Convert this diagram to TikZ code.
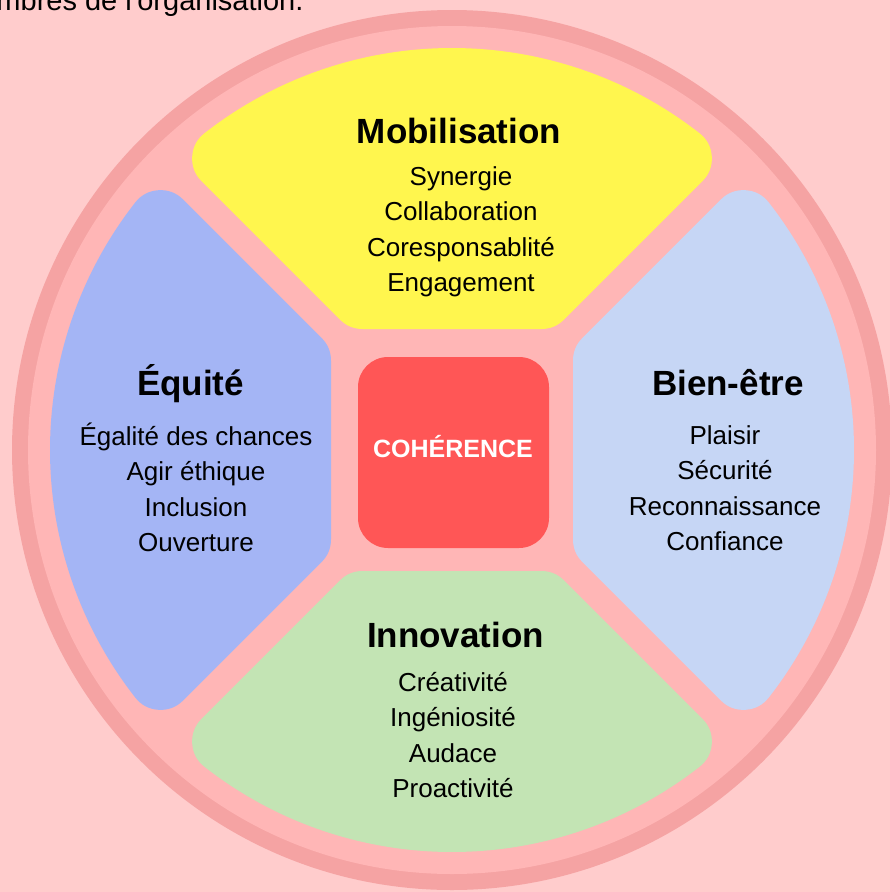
\documentclass[tikz,border=0pt]{standalone}
\usepackage{fontspec}
\setmainfont{Liberation Sans}
\usepackage{tikz}
\usetikzlibrary{calc}

\definecolor{bgpink}{RGB}{255,204,204}
\definecolor{ringpink}{RGB}{245,163,163}
\definecolor{innerpink}{RGB}{255,182,182}
\definecolor{mobilyellow}{RGB}{255,246,78}
\definecolor{equiteblue}{RGB}{164,181,245}
\definecolor{bienblue}{RGB}{198,214,245}
\definecolor{innovgreen}{RGB}{195,228,180}
\definecolor{cohred}{RGB}{255,86,86}

% shrunk sector (radius 402, gap 13, flat 121, corners 32)
\pgfmathsetmacro\secR{402-32}
\pgfmathsetmacro\secG{13+32}
\pgfmathsetmacro\secD{121+32}
\pgfmathsetmacro\secT{100*sqrt((\secR/100)^2-(\secG/100)^2)}
\pgfmathsetmacro\secAx{\secG*sqrt(2)-\secD}
\pgfmathsetmacro\secAxn{\secD-\secG*sqrt(2)}
\pgfmathsetmacro\secBx{(\secG-\secT)/sqrt(2)}
\pgfmathsetmacro\secBy{(\secG+\secT)/sqrt(2)}
\pgfmathsetmacro\secAng{atan2(\secBy,\secBx)}
\def\sector[#1](#2){%
	\begin{scope}[shift={(452,450)}, rotate=#2]
		\filldraw[#1, line width=64pt, line join=round] (\secAx,-\secD) -- (\secBx,-\secBy) arc[start angle=-\secAng, end angle=\secAng-180, radius=\secR] -- (\secAxn,-\secD) -- cycle;
	\end{scope}}

\tikzset{
	titletext/.style={anchor=base, font=\fontsize{35}{42}\selectfont\bfseries},
	itemtext/.style={anchor=base, font=\fontsize{26}{31}\selectfont},
	cohbox/.style={fill=cohred, rounded corners=30pt, minimum size=191pt, inner sep=0pt},
	cohtext/.style={anchor=base, text=white, font=\fontsize{25}{30}\selectfont\bfseries}
}

\begin{document}
\begin{tikzpicture}[x=1pt, y=-1pt]
		%%%%% START %%%%%
		
		\fill[bgpink] (0,0) rectangle (890,892);
		\useasboundingbox (0,0) rectangle (890,892);
		
		\node[anchor=base east, font=\fontsize{29}{34}\selectfont] (intro) at (307,10) {mbres de l\textquotesingle organisation.};
		
		\fill[ringpink] (452,450) circle (440);
		\fill[innerpink] (452,450) circle (424);
		
		\sector[mobilyellow](0)
		\sector[equiteblue](90)
		\sector[innovgreen](180)
		\sector[bienblue](270)
		
		\node[cohbox] (coh) at (453.5,452.5) {};
		\node[cohtext] (cohlabel) at (453,457.3) {COHÉRENCE};
		
		\node[titletext] (mobil) at (459,143.3) {Mobilisation};
		\foreach \txt [count=\i] in {Synergie, Collaboration, Coresponsablité, Engagement}
			\node[itemtext] (mob\i) at (461,149.5+35.5*\i) {\txt};
		
		\node[titletext] (equite) at (190.5,395) {Équité};
		\foreach \txt [count=\i] in {Égalité des chances, Agir éthique, Inclusion, Ouverture}
			\node[itemtext] (equ\i) at (196,409.5+35.5*\i) {\txt};
		
		\node[titletext] (bien) at (728,395) {Bien-être};
		\foreach \txt [count=\i] in {Plaisir, Sécurité, Reconnaissance, Confiance}
			\node[itemtext] (bien\i) at (725,408.5+35.5*\i) {\txt};
		
		\node[titletext] (innov) at (455.5,647.3) {Innovation};
		\foreach \txt [count=\i] in {Créativité, Ingéniosité, Audace, Proactivité}
			\node[itemtext] (inno\i) at (453,655.5+35.5*\i) {\txt};
		
		%%%%% END %%%%%
	\end{tikzpicture}
\end{document}
